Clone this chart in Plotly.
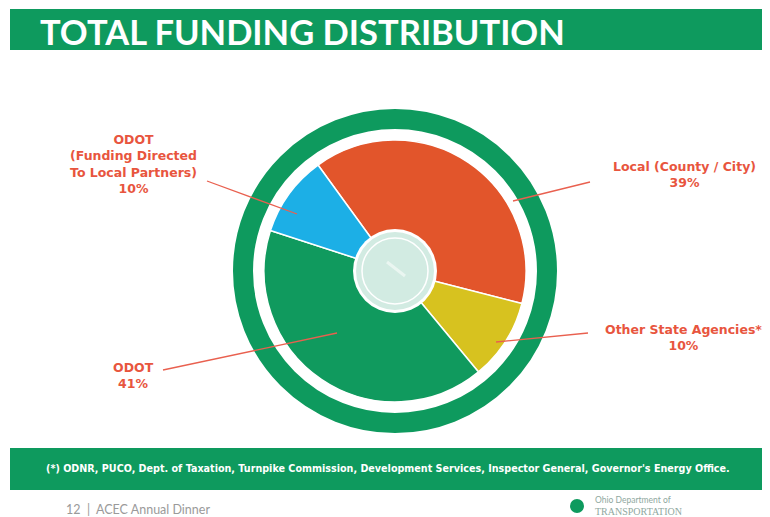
import plotly.graph_objects as go

# page has an 8px body margin, so the figure is drawn 8px in from the top-left
OFF = 8
W, H = 770 - OFF, 517 - OFF

# ---- data ----
categories = ["Local (County / City)", "Other State Agencies*", "ODOT",
              "ODOT (Funding Directed To Local Partners)"]
shares = [39, 10, 41, 10]
slice_colors = ["#E2552B", "#D7C21F", "#109A5E", "#1CAFE6"]
label_texts = ["Local (County / City)<br>39%",
               "Other State Agencies*<br>10%",
               "ODOT<br>41%",
               "ODOT<br>(Funding Directed<br>To Local Partners)<br>10%"]
title_text = "TOTAL FUNDING DISTRIBUTION"
footnote = ("(*) ODNR, PUCO, Dept. of Taxation, Turnpike Commission, Development Services, "
            "Inspector General, Governor's Energy Office.")
footer_left = "12  |  ACEC Annual Dinner"
logo_line1 = "Ohio Department of"
logo_line2 = "TRANSPORTATION"

GREEN = "#0E9A5E"
LABEL = "#E8553E"
LABEL_FONT = "DejaVu Sans"


def px(x):
    return (x - OFF) / W


def py(y):
    return 1 - (y - OFF) / H


cx, cy, R = 395, 271, 131

fig = go.Figure()
fig.add_trace(go.Pie(
    labels=categories, values=shares, sort=False, direction="clockwise",
    rotation=-36, textinfo="none", hoverinfo="label+percent",
    marker=dict(colors=slice_colors, line=dict(color="white", width=1.5)),
    domain=dict(x=[px(cx - R), px(cx + R)], y=[py(cy + R), py(cy - R)]),
    showlegend=False,
))

shapes = []
# title bar and footer bar
shapes.append(dict(type="rect", xref="paper", yref="paper", x0=px(10), x1=1,
                   y0=py(50), y1=py(9), fillcolor=GREEN, line_width=0, layer="below"))
shapes.append(dict(type="rect", xref="paper", yref="paper", x0=px(10), x1=1,
                   y0=py(490), y1=py(448), fillcolor=GREEN, line_width=0, layer="below"))
# outer ring
ring_r = 152
shapes.append(dict(type="circle", xref="paper", yref="paper", xsizemode="pixel",
                   ysizemode="pixel", xanchor=px(cx), yanchor=py(cy),
                   x0=-ring_r, x1=ring_r, y0=-ring_r, y1=ring_r,
                   line=dict(color=GREEN, width=20), fillcolor="rgba(0,0,0,0)"))
# center disc
for r, fill, lc, lw in [(42, "white", "white", 0), (39, "#D2EBE2", "#D2EBE2", 0),
                        (33, "rgba(0,0,0,0)", "white", 1.5)]:
    shapes.append(dict(type="circle", xref="paper", yref="paper", xsizemode="pixel",
                       ysizemode="pixel", xanchor=px(cx), yanchor=py(cy),
                       x0=-r, x1=r, y0=-r, y1=r,
                       line=dict(color=lc, width=lw), fillcolor=fill))
# faint mark in centre disc
shapes.append(dict(type="line", xref="paper", yref="paper", x0=px(387), y0=py(262),
                   x1=px(405), y1=py(276), line=dict(color="#EAF6F1", width=3)))

# leader lines: (from label, to slice)
leaders = [((590, 182), (513, 201)),
           ((588, 333), (496, 342)),
           ((163, 370), (337, 333)),
           ((207, 181), (297, 214))]
for (x0, y0), (x1, y1) in leaders:
    shapes.append(dict(type="line", xref="paper", yref="paper", x0=px(x0), y0=py(y0),
                       x1=px(x1), y1=py(y1), line=dict(color="#E9604F", width=1.3)))

# logo circle
shapes.append(dict(type="circle", xref="paper", yref="paper", xsizemode="pixel",
                   ysizemode="pixel", xanchor=px(577), yanchor=py(506),
                   x0=-7, x1=7, y0=-7, y1=7, fillcolor=GREEN, line_width=0))

annotations = []
label_pos = [(684, 174), (683, 337), (133, 375), (133, 164)]
for t, (x, y) in zip(label_texts, label_pos):
    annotations.append(dict(text=t, x=px(x), y=py(y), xref="paper", yref="paper",
                            xanchor="center", yanchor="middle",
                            showarrow=False, align="center",
                            font=dict(family=LABEL_FONT, size=12.5, color=LABEL,
                                      weight="bold")))

annotations.append(dict(text=title_text, x=px(38), y=py(31), xref="paper", yref="paper",
                        xanchor="left", yanchor="middle", showarrow=False,
                        font=dict(family="Lato", size=34.5, color="white", weight="bold")))
annotations.append(dict(text=footnote, x=px(388), y=py(468), xref="paper", yref="paper",
                        xanchor="center", yanchor="middle", showarrow=False,
                        font=dict(family="DejaVu Sans", size=9.6, color="white",
                                  weight="bold")))
annotations.append(dict(text=footer_left, x=px(64), y=py(509), xref="paper", yref="paper",
                        xanchor="left", yanchor="middle", showarrow=False,
                        font=dict(family="Lato", size=12.5, color="#9A9A9A")))
annotations.append(dict(text=logo_line1, x=px(593), y=py(499.5), xref="paper",
                        yref="paper", xanchor="left", yanchor="middle", showarrow=False,
                        font=dict(family="Lato", size=8.5, color="#8FA8A0")))
annotations.append(dict(text=logo_line2, x=px(593), y=py(511), xref="paper",
                        yref="paper", xanchor="left", yanchor="middle", showarrow=False,
                        font=dict(family="Liberation Serif", size=10, color="#8FA8A0")))

fig.update_layout(width=W, height=H, margin=dict(l=0, r=0, t=0, b=0),
                  paper_bgcolor="white", plot_bgcolor="white",
                  shapes=shapes, annotations=annotations)

fig.write_html("out.html")
